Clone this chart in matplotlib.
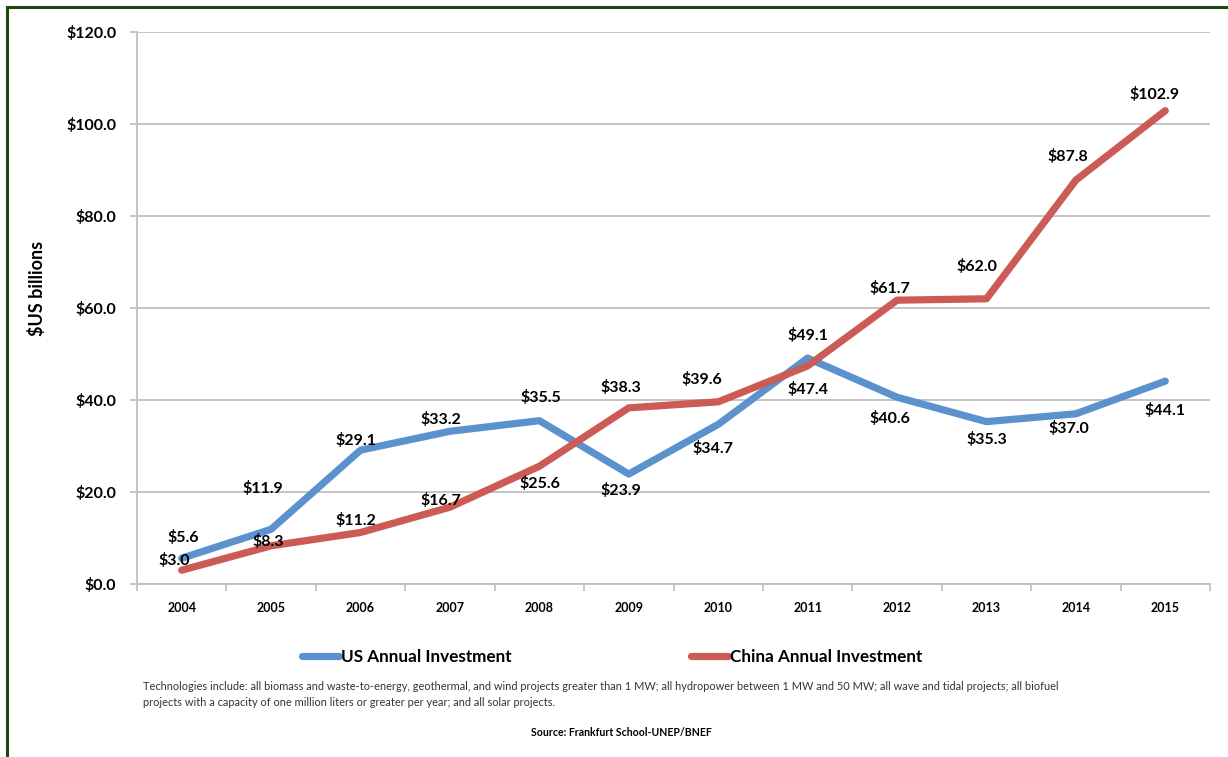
import matplotlib as mpl
from matplotlib import pyplot as plt
from matplotlib.lines import Line2D

mpl.rcParams['font.family'] = ['Lato', 'DejaVu Sans']

years = ['2004', '2005', '2006', '2007', '2008', '2009',
         '2010', '2011', '2012', '2013', '2014', '2015']
us_invest = [5.6, 11.9, 29.1, 33.2, 35.5, 23.9, 34.7, 49.1, 40.6, 35.3, 37.0, 44.1]
china_invest = [3.0, 8.3, 11.2, 16.7, 25.6, 38.3, 39.6, 47.4, 61.7, 62.0, 87.8, 102.9]
y_ticks = [0, 20, 40, 60, 80, 100, 120]

# label offsets in pixels (dx, dy) relative to each point, screen y goes up
us_offsets = [(2, 21), (-8, 41), (-5, 10), (-9, 12), (1, 23), (-8, -16),
              (-5, -24), (0, 23), (-7, -21), (0, -18), (-7, -15), (0, -29)]
china_offsets = [(-7, 10), (-3, 4), (-5, 12), (-9, 7), (1, -17), (-8, 20),
                 (-16, 22), (0, -24), (-7, 12), (-10, 32), (-8, 24), (-11, 16)]

blue = '#5b92cd'
red = '#cc5b55'
grid_c = '#bfbfbf'

fig = plt.figure(figsize=(12.28, 7.57), dpi=100)
ax = fig.add_axes([137 / 1228, 1 - 584 / 757, (1210 - 137) / 1228, (584 - 32) / 757])

x = list(range(len(years)))
ax.plot(x, us_invest, color=blue, lw=5.2, solid_capstyle='round',
        solid_joinstyle='round', label='US Annual Investment', zorder=3)
ax.plot(x, china_invest, color=red, lw=5.2, solid_capstyle='round',
        solid_joinstyle='round', label='China Annual Investment', zorder=3)

for xi, v, off in zip(x, us_invest, us_offsets):
    ax.annotate('$%.1f' % v, (xi, v), xytext=off, textcoords='offset pixels',
                ha='center', va='center', fontsize=11.5, fontweight='bold', zorder=4)
for xi, v, off in zip(x, china_invest, china_offsets):
    ax.annotate('$%.1f' % v, (xi, v), xytext=off, textcoords='offset pixels',
                ha='center', va='center', fontsize=11.5, fontweight='bold', zorder=4)

ax.set_xlim(-0.5, len(years) - 0.5)
ax.set_ylim(0, 120)
ax.set_yticks(y_ticks)
ax.set_yticklabels(['$%.1f' % t for t in y_ticks], fontsize=11.5, fontweight='bold')
ax.set_xticks(x)
ax.set_xticklabels(years, fontsize=9, fontweight='bold')
ax.set_xticks([i - 0.5 for i in range(len(years) + 1)], minor=True)
ax.tick_params(axis='x', which='major', length=0, pad=13)
ax.tick_params(axis='x', which='minor', length=5, color=grid_c, width=1.2)
ax.tick_params(axis='y', length=5, color=grid_c, width=1.2, pad=10)

ax.grid(axis='y', color=grid_c, lw=1.3)
ax.set_axisbelow(True)
for s in ['top', 'right']:
    ax.spines[s].set_visible(False)
for s in ['left', 'bottom']:
    ax.spines[s].set_color(grid_c)
    ax.spines[s].set_linewidth(1.3)

fig.text(37 / 1228, 1 - 288 / 757, '$US billions', rotation=90, ha='center',
         va='center', fontsize=13, fontweight='bold')

leg = fig.legend(loc='center', bbox_to_anchor=(612 / 1228, 1 - 657 / 757), ncol=2,
                 frameon=False, fontsize=12.3, handlelength=2.2, handletextpad=0.1,
                 columnspacing=10.5)
for t in leg.get_texts():
    t.set_fontweight('bold')

fig.text(143 / 1228, 1 - 687 / 757,
         'Technologies include: all biomass and waste-to-energy, geothermal, and wind projects '
         'greater than 1 MW; all hydropower between 1 MW and 50 MW; all wave and tidal projects; '
         'all biofuel', fontsize=7.9, color='#333333', va='center')
fig.text(143 / 1228, 1 - 702 / 757,
         'projects with a capacity of one million liters or greater per year; and all solar projects.',
         fontsize=7.9, color='#333333', va='center')
fig.text(621 / 1228, 1 - 733 / 757, 'Source: Frankfurt School-UNEP/BNEF',
         fontsize=7.6, fontweight='bold', ha='center', va='center')

# dark green frame on the left and top edges
fig.add_artist(Line2D([7 / 1228, 7 / 1228], [0, 1 - 7 / 757], color='#1d4a12', lw=2.2))
fig.add_artist(Line2D([7 / 1228, 1], [1 - 7 / 757, 1 - 7 / 757], color='#1d4a12', lw=2.2))

plt.savefig('out.png', dpi=100)
